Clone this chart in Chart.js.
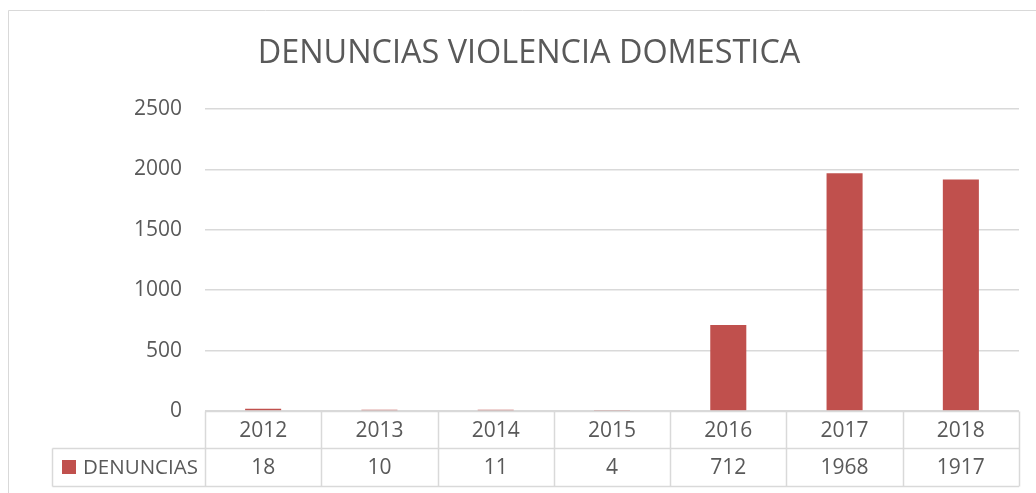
<!DOCTYPE html>
<html>
<head>
<meta charset="utf-8">
<script src="https://cdn.jsdelivr.net/npm/chart.js@4"></script>
<style>
  html, body { margin: 0; padding: 0; background: #ffffff; }
  #wrap { position: relative; width: 1036px; height: 493px; }
</style>
</head>
<body>
<div id="wrap"><canvas id="c" width="1036" height="493"></canvas></div>
<script>
const title = "DENUNCIAS VIOLENCIA DOMESTICA";
const seriesName = "DENUNCIAS";
const categories = ["2012", "2013", "2014", "2015", "2016", "2017", "2018"];
const denuncias = [18, 10, 11, 4, 712, 1968, 1917];
const yTicks = [0, 500, 1000, 1500, 2000, 2500];

const FONT = "'Open Sans', 'Liberation Sans', sans-serif";
const TEXT = '#595959';
const GRID = '#d9d9d9';
const BAR = '#c0504d';

const decorPlugin = {
  id: 'decor',
  beforeDraw(chart) {
    const ctx = chart.ctx;
    ctx.save();
    ctx.fillStyle = '#ffffff';
    ctx.fillRect(0, 0, chart.width, chart.height);
    ctx.strokeStyle = GRID;
    ctx.lineWidth = 1;
    ctx.beginPath();
    ctx.moveTo(8.5, chart.height + 2);
    ctx.lineTo(8.5, 10.5);
    ctx.lineTo(chart.width + 2, 10.5);
    ctx.stroke();
    ctx.fillStyle = TEXT;
    ctx.font = "32.4px " + FONT;
    ctx.textAlign = 'center';
    ctx.textBaseline = 'middle';
    ctx.fillText(title, 529, 54);
    ctx.restore();
  },
  afterDraw(chart) {
    const ctx = chart.ctx;
    const xs = chart.scales.x;
    const area = chart.chartArea;
    const half = (xs.getPixelForValue(1) - xs.getPixelForValue(0)) / 2;
    const top = Math.round(area.bottom) + 0.5;
    const mid = top + 37;
    const bot = mid + 38;
    const left = xs.getPixelForValue(0) - half;
    const right = xs.getPixelForValue(categories.length - 1) + half;
    const legLeft = 52.5;
    ctx.save();
    ctx.strokeStyle = GRID;
    ctx.lineWidth = 1.5;
    ctx.beginPath();
    ctx.moveTo(left, top); ctx.lineTo(right, top);
    ctx.moveTo(legLeft, mid); ctx.lineTo(right, mid);
    ctx.moveTo(legLeft, bot); ctx.lineTo(right, bot);
    ctx.moveTo(legLeft, mid); ctx.lineTo(legLeft, bot);
    for (let i = 0; i <= categories.length; i++) {
      const x = Math.round(left + i * 2 * half) + 0.5;
      ctx.moveTo(x, top); ctx.lineTo(x, bot);
    }
    ctx.stroke();
    ctx.fillStyle = TEXT;
    ctx.font = "21px " + FONT;
    ctx.textAlign = 'center';
    ctx.textBaseline = 'middle';
    categories.forEach((c, i) => {
      const x = xs.getPixelForValue(i);
      ctx.fillText(c, x, (top + mid) / 2 + 1);
      ctx.fillText(String(denuncias[i]), x, (mid + bot) / 2 + 1);
    });
    ctx.fillStyle = BAR;
    ctx.fillRect(62, 460, 14, 14);
    ctx.fillStyle = TEXT;
    ctx.font = "20.5px " + FONT;
    ctx.textAlign = 'left';
    ctx.fillText(seriesName, 83, (mid + bot) / 2 + 1);
    ctx.restore();
  }
};

new Chart(document.getElementById('c'), {
  type: 'bar',
  data: {
    labels: categories,
    datasets: [{
      label: seriesName,
      data: denuncias,
      backgroundColor: BAR,
      borderWidth: 0,
      categoryPercentage: 1.0,
      barPercentage: 0.31
    }]
  },
  options: {
    responsive: false,
    animation: false,
    devicePixelRatio: 1,
    layout: { padding: { left: 0, right: 17, top: 109, bottom: 82 } },
    plugins: {
      legend: { display: false },
      title: { display: false },
      tooltip: { enabled: false }
    },
    scales: {
      x: { display: false, offset: true },
      y: {
        min: 0,
        max: 2500,
        afterBuildTicks(scale) { scale.ticks = yTicks.map(v => ({ value: v })); },
        afterFit(scale) { scale.width = 205; },
        ticks: {
          color: TEXT,
          font: { family: FONT, size: 21 },
          padding: 23,
          callback: (v) => String(v)
        },
        grid: { color: GRID, lineWidth: 1.5, drawTicks: false },
        border: { display: false }
      }
    }
  },
  plugins: [decorPlugin]
});
</script>
</body>
</html>
